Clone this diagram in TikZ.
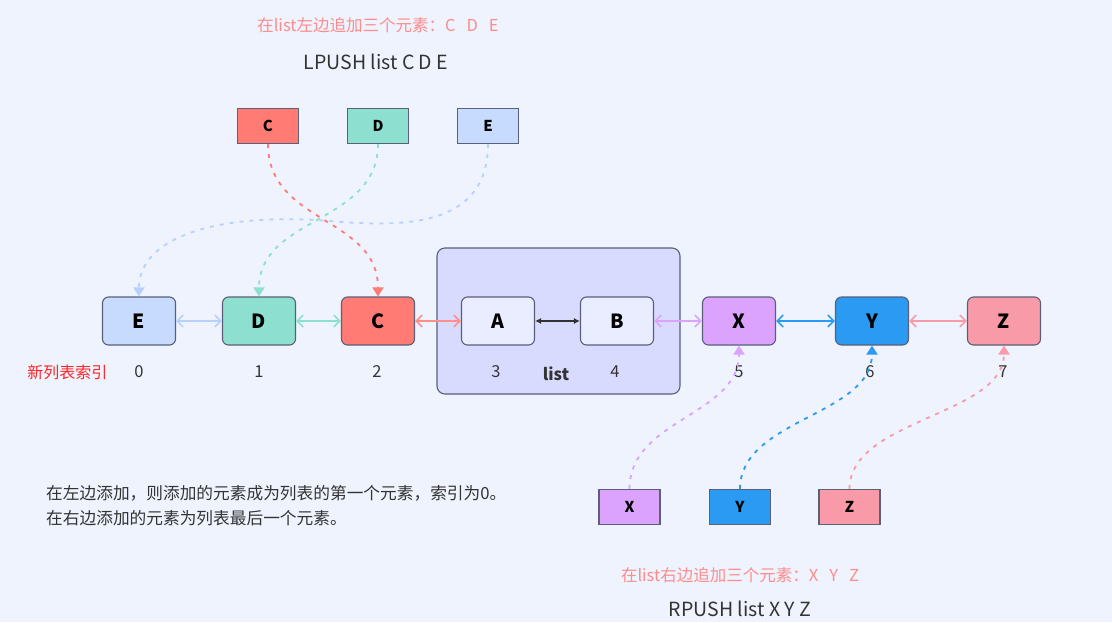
\documentclass[tikz,border=0pt]{standalone}
\usepackage{fontspec}
\setmainfont{Noto Sans CJK SC}
\usetikzlibrary{arrows.meta,positioning}

\definecolor{bgblue}{RGB}{238,243,254}
\definecolor{edgegray}{RGB}{90,96,120}
\definecolor{cRed}{RGB}{255,123,115}
\definecolor{dTeal}{RGB}{141,224,208}
\definecolor{eBlue}{RGB}{198,219,254}
\definecolor{eLine}{RGB}{184,208,252}
\definecolor{xPurple}{RGB}{219,163,254}
\definecolor{yBlue}{RGB}{43,154,243}
\definecolor{zPink}{RGB}{248,154,168}
\definecolor{listFill}{RGB}{217,219,254}
\definecolor{abFill}{RGB}{234,237,255}
\definecolor{noteRed}{RGB}{255,140,140}
\definecolor{txtGray}{RGB}{51,51,51}

\tikzset{
  elem/.style={draw=edgegray,line width=1.1pt,rounded corners=6pt,minimum width=73pt,minimum height=48pt,inner sep=0pt,font=\fontsize{19.5}{21}\selectfont\bfseries},
  pushbox/.style={draw=edgegray,line width=1.1pt,minimum width=61pt,minimum height=35pt,inner sep=0pt,font=\fontsize{15}{17}\selectfont\bfseries},
  link/.style={line width=1.6pt,{Straight Barb[length=6pt,width=12pt]}-{Straight Barb[length=6pt,width=12pt]}},
  push/.style={line width=1.8pt,dash pattern=on 4pt off 6pt,-{Triangle[length=9pt,width=11pt]}},
  idx/.style={text=txtGray,font=\fontsize{16.5}{18}\selectfont},
}

\begin{document}
\begin{tikzpicture}[x=1pt,y=-1pt]
\fill[bgblue] (0,0) rectangle (1112,622);
\useasboundingbox (0,0) rectangle (1112,622);

% titles
\node[text=noteRed,font=\fontsize{16.5}{19}\selectfont] (ltitle) at (378,25) {在list左边追加三个元素：C\hspace{11pt}D\hspace{11pt}E};
\node[text=txtGray,font=\fontsize{19.5}{22}\selectfont] (lcmd) at (376,62) {LPUSH list C D E};
\node[text=noteRed,font=\fontsize{16.5}{19}\selectfont] (rtitle) at (740,575) {在list右边追加三个元素：X\hspace{11pt}Y\hspace{11pt}Z};
\node[text=txtGray,font=\fontsize{19.5}{22}\selectfont] (rcmd) at (740,609) {RPUSH list X Y Z};

% the original list
\node[draw=edgegray,line width=1.1pt,fill=listFill,rounded corners=8pt,minimum width=243pt,minimum height=146pt] (lst) at (558.5,321) {};
\node[elem,fill=abFill] (nA) at (498,321) {A};
\node[elem,fill=abFill] (nB) at (617,321) {B};
\node[text=txtGray,font=\fontsize{16.5}{18}\selectfont\bfseries] (lname) at (556,374) {list};

% new elements
\node[elem,fill=eBlue] (nE) at (139,321) {E};
\node[elem,fill=dTeal] (nD) at (259,321) {D};
\node[elem,fill=cRed] (nC) at (378,321) {C};
\node[elem,fill=xPurple] (nX) at (739,321) {X};
\node[elem,fill=yBlue] (nY) at (872,321) {Y};
\node[elem,fill=zPink] (nZ) at (1004,321) {Z};

% pushed elements
\node[pushbox,fill=cRed] (tC) at (268,126) {C};
\node[pushbox,fill=dTeal] (tD) at (378,126) {D};
\node[pushbox,fill=eBlue] (tE) at (488,126) {E};
\node[pushbox,fill=xPurple] (bX) at (629.5,507) {X};
\node[pushbox,fill=yBlue] (bY) at (740,507) {Y};
\node[pushbox,fill=zPink] (bZ) at (849.5,507) {Z};

% index row
\node[text=red!85!white,font=\fontsize{16}{18}\selectfont,anchor=east] (idxname) at (111,372) {新列表索引};
\foreach \x/\i in {139/0,259/1,377/2,496/3,615/4,739/5,870/6,1003/7}
  \node[idx] (i\i) at (\x,372) {\i};

% links
\draw[link,draw=eLine] (nE) -- (nD);
\draw[link,draw=dTeal] (nD) -- (nC);
\draw[link,draw=cRed!85!white] (nC) -- (nA);
\draw[line width=1.1pt,black!80,{Latex[length=6pt,width=6pt]}-{Latex[length=6pt,width=6pt]}] (nA) -- (nB);
\draw[link,draw=xPurple] (nB) -- (nX);
\draw[link,draw=yBlue] (nX) -- (nY);
\draw[link,draw=zPink] (nY) -- (nZ);

% LPUSH
\coordinate (eBend) at (330,221);
\draw[push,cRed] (tC.south) .. controls +(0,80) and +(0,-80) .. (nC.north);
\draw[push,dTeal] (tD.south) .. controls +(0,80) and +(0,-80) .. (nD.north);
\draw[push,eLine] (tE.south) .. controls +(0,85) and +(70,6) .. (eBend)
  .. controls +(-110,-9) and +(0,-60) .. (nE.north);

% RPUSH
\draw[push,xPurple] (bX.north) .. controls +(0,-70) and +(0,70) .. (nX.south);
\draw[push,yBlue] (bY.north) .. controls +(0,-70) and +(0,70) .. (nY.south);
\draw[push,zPink] (bZ.north) .. controls +(0,-70) and +(0,70) .. (nZ.south);

% note
\node[text=txtGray,font=\fontsize{16.7}{25}\selectfont,anchor=north west,align=left,inner sep=0pt] (note) at (46,485) {在左边添加，则添加的元素成为列表的第一个元素，索引为0。\\在右边添加的元素为列表最后一个元素。};
\end{tikzpicture}
\end{document}
